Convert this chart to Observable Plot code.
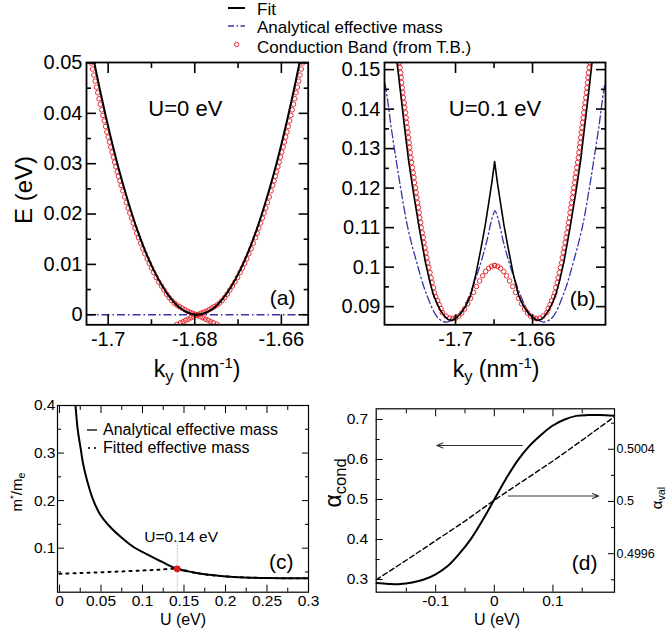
<!DOCTYPE html>
<html>
<head>
<meta charset="utf-8">
<script src="https://cdn.jsdelivr.net/npm/d3@7"></script>
<script src="https://cdn.jsdelivr.net/npm/@observablehq/plot@0.6"></script>
<style>
html,body{margin:0;padding:0;background:#fff;}
#page{position:relative;width:667px;height:630px;overflow:hidden;background:#fff;font-family:"Liberation Sans",Arial,Helvetica,sans-serif;color:#000;}
#page svg.panel{position:absolute;left:0;top:0;}
#page svg.sw{position:absolute;}
.lab{position:absolute;white-space:nowrap;line-height:1;}
.lab sub{font-size:0.72em;vertical-align:-0.32em;line-height:0;}
.lab sup{font-size:0.65em;vertical-align:0.6em;line-height:0;}
</style>
</head>
<body>
<div id="page"></div>
<script>
// ---------------- data: panel (a), U = 0 eV ----------------
const aCbKLeft = [-1.7039,-1.7036,-1.7033,-1.7030,-1.7027,-1.7024,-1.7021,-1.7018,-1.7015,-1.7012,-1.7009,-1.7006,-1.7003,-1.7000,-1.6997,-1.6994,-1.6991,-1.6988,-1.6985,-1.6982,-1.6979,-1.6976,-1.6973,-1.6970,-1.6966,-1.6962,-1.6958,-1.6954,-1.6950,-1.6946,-1.6942,-1.6938,-1.6934,-1.6930,-1.6925,-1.6920,-1.6915,-1.6910,-1.6905,-1.6900,-1.6895,-1.6889,-1.6883,-1.6877,-1.6871,-1.6865,-1.6859,-1.6853,-1.6847,
  -1.6841,-1.6835,-1.6829,-1.6823,-1.6817,-1.6811,-1.6805,-1.6799,-1.6793,-1.6787,-1.6781,-1.6775,-1.6769,-1.6763,-1.6757,-1.6749];
const aCbKRight = [-1.6551,-1.6554,-1.6557,-1.6560,-1.6563,-1.6566,-1.6569,-1.6572,-1.6575,-1.6578,-1.6581,-1.6584,-1.6587,-1.6590,-1.6593,-1.6596,-1.6599,-1.6602,-1.6605,-1.6608,-1.6611,-1.6614,-1.6617,-1.6620,-1.6624,-1.6628,-1.6632,-1.6636,-1.6640,-1.6644,-1.6648,-1.6652,-1.6656,-1.6660,-1.6665,-1.6670,-1.6675,-1.6680,-1.6685,-1.6690,-1.6695,-1.6701,-1.6707,-1.6713,-1.6719,-1.6725,-1.6731,-1.6737,-1.6743,
  -1.6749,-1.6755,-1.6761,-1.6767,-1.6773,-1.6779,-1.6785,-1.6791,-1.6797,-1.6803,-1.6809,-1.6815,-1.6821,-1.6827,-1.6833,-1.6841];
const aCbE = [0.0500,0.0488,0.0476,0.0464,0.0452,0.0441,0.0429,0.0418,0.0407,0.0396,0.0385,0.0374,0.0363,0.0353,0.0343,0.0333,0.0323,0.0313,0.0303,0.0294,0.0284,0.0275,0.0266,0.0257,0.0246,0.0234,0.0223,0.0212,0.0202,0.0192,0.0182,0.0172,0.0162,0.0153,0.0142,0.0131,0.0121,0.0111,0.0102,0.0093,0.0084,0.0074,0.0065,0.0057,0.0049,0.0041,0.0034,0.0028,0.0023,
  0.0019,0.0016,0.0013,0.0010,0.0007,0.0005,0.0003,0.0001,-0.0001,-0.0004,-0.0006,-0.0009,-0.0011,-0.0014,-0.0016,-0.0019];
const aFitK = [-1.7035,-1.7015,-1.6995,-1.6975,-1.6955,-1.6935,-1.6915,-1.6895,-1.6875,-1.6855,-1.6835,-1.6815,-1.6795,-1.6775,-1.6755,-1.6735,-1.6715,-1.6695,-1.6675,-1.6655,-1.6635,-1.6615,-1.6595,-1.6575,-1.6555];
const aFitE = [0.0513,0.0431,0.0356,0.0288,0.0228,0.0174,0.0128,0.0089,0.0057,0.0032,0.0014,0.0004,0,0.0004,0.0014,0.0032,0.0057,0.0089,0.0128,0.0174,0.0228,0.0288,0.0356,0.0431,0.0513];
const aAnaE = [0];

// ---------------- data: panel (b), U = 0.1 eV ----------------
const bCbKLeft = [-1.7291,-1.7288,-1.7285,-1.7282,-1.7280,-1.7277,-1.7274,-1.7271,-1.7267,-1.7264,-1.7260,-1.7257,-1.7254,-1.7251,-1.7247,-1.7244,-1.7241,-1.7238,-1.7235,-1.7232,-1.7228,-1.7224,-1.7220,-1.7216,-1.7213,-1.7208,-1.7205,-1.7201,-1.7197,-1.7193,-1.7189,-1.7186,-1.7181,-1.7178,-1.7173,-1.7168,-1.7164,-1.7159,-1.7154,-1.7149,-1.7145,-1.7139,-1.7133,-1.7127,-1.7122,-1.7115,-1.7110,-1.7103,-1.7093,-1.7085,-1.7076,-1.7068,-1.7049,-1.7031,-1.7014,
  -1.7000,-1.6984,-1.6968,-1.6953,-1.6937,-1.6922,-1.6906,-1.6891,-1.6875,-1.6859,-1.6844,-1.6828,-1.6813,-1.6797];
const bCbKRight = [-1.6303,-1.6306,-1.6309,-1.6312,-1.6314,-1.6317,-1.6320,-1.6323,-1.6327,-1.6330,-1.6334,-1.6337,-1.6340,-1.6343,-1.6347,-1.6350,-1.6353,-1.6356,-1.6359,-1.6362,-1.6366,-1.6370,-1.6374,-1.6378,-1.6381,-1.6386,-1.6389,-1.6393,-1.6397,-1.6401,-1.6405,-1.6408,-1.6413,-1.6416,-1.6421,-1.6426,-1.6430,-1.6435,-1.6440,-1.6445,-1.6449,-1.6455,-1.6461,-1.6467,-1.6472,-1.6479,-1.6484,-1.6491,-1.6501,-1.6509,-1.6518,-1.6526,-1.6545,-1.6563,-1.6580,
  -1.6594,-1.6610,-1.6626,-1.6641,-1.6657,-1.6672,-1.6688,-1.6703,-1.6719,-1.6735,-1.6750,-1.6766,-1.6781,-1.6797];
const bCbE = [0.1518,0.1505,0.1492,0.1480,0.1467,0.1454,0.1442,0.1429,0.1416,0.1404,0.1391,0.1378,0.1366,0.1353,0.1341,0.1328,0.1315,0.1303,0.1290,0.1277,0.1265,0.1252,0.1239,0.1227,0.1214,0.1201,0.1189,0.1176,0.1163,0.1151,0.1138,0.1125,0.1113,0.1100,0.1087,0.1075,0.1062,0.1049,0.1037,0.1024,0.1011,0.0999,0.0986,0.0973,0.0961,0.0948,0.0935,0.0925,0.0915,0.0905,0.0895,0.0885,0.0876,0.0871,0.0870,
  0.0871,0.0876,0.0884,0.0894,0.0907,0.0921,0.0936,0.0951,0.0965,0.0978,0.0989,0.0997,0.1002,0.1004];
const bFitK = [-1.7311,-1.7304,-1.7285,-1.7265,-1.7244,-1.7218,-1.7189,-1.7158,-1.7135,-1.7117,-1.7098,-1.7078,-1.7057,-1.7041,-1.7020,-1.7000,-1.6974,-1.6945,-1.6922,-1.6896,-1.6870,-1.6846,-1.6826,-1.6810,-1.6797,
  -1.6784,-1.6768,-1.6748,-1.6724,-1.6698,-1.6672,-1.6649,-1.6620,-1.6594,-1.6574,-1.6553,-1.6537,-1.6517,-1.6496,-1.6478,-1.6459,-1.6436,-1.6405,-1.6376,-1.6350,-1.6330,-1.6309,-1.6291,-1.6283];
const bFitE = [0.1548,0.1518,0.1439,0.1353,0.1270,0.1186,0.1100,0.1016,0.0966,0.0933,0.0910,0.0890,0.0876,0.0868,0.0865,0.0870,0.0882,0.0903,0.0928,0.0978,0.1042,0.1105,0.1168,0.1219,0.1267,
  0.1219,0.1168,0.1105,0.1042,0.0978,0.0928,0.0903,0.0882,0.0870,0.0865,0.0868,0.0876,0.0890,0.0910,0.0933,0.0966,0.1016,0.1100,0.1186,0.1270,0.1353,0.1439,0.1518,0.1548];
const bAnaK = [-1.7382,-1.7360,-1.7334,-1.7308,-1.7283,-1.7248,-1.7204,-1.7152,-1.7092,-1.7049,-1.7003,-1.6971,-1.6935,-1.6899,-1.6867,-1.6837,-1.6816,-1.6803,-1.6795,
  -1.6787,-1.6774,-1.6753,-1.6723,-1.6691,-1.6655,-1.6619,-1.6587,-1.6542,-1.6498,-1.6438,-1.6386,-1.6342,-1.6307,-1.6282,-1.6256,-1.6230,-1.6208];
const bAnaE = [0.1503,0.1447,0.1353,0.1270,0.1194,0.1100,0.1016,0.0933,0.0872,0.0861,0.0870,0.0885,0.0920,0.0966,0.1014,0.1067,0.1113,0.1135,0.1143,
  0.1135,0.1113,0.1067,0.1014,0.0966,0.0920,0.0885,0.0870,0.0861,0.0872,0.0933,0.1016,0.1100,0.1194,0.1270,0.1353,0.1447,0.1503];

// ---------------- data: panel (c), effective mass ----------------
const cAnaU = [0.0175,0.0193,0.0221,0.0253,0.0285,0.0333,0.0394,0.0486,0.0614,0.0743,0.0896,0.1056,0.1237,0.1418,0.160,0.180,0.210,0.250,0.300];
const cAnaM = [0.440,0.400,0.347,0.312,0.277,0.242,0.207,0.172,0.144,0.123,0.102,0.087,0.071,0.0566,0.0495,0.0440,0.0395,0.0372,0.0370];
const cFitU = [0,0.025,0.05,0.075,0.1,0.12,0.1418,0.16,0.18,0.21,0.25,0.3];
const cFitM = [0.0460,0.0476,0.0494,0.0511,0.0530,0.0547,0.0566,0.0495,0.0440,0.0395,0.0372,0.0370];
const cMarkU = [0.1418];
const cMarkM = [0.0566];
const cMarkTop = [0.110];
const cMarkText = ["U=0.14 eV"];

// ---------------- data: panel (d), alpha ----------------
const dU = [-0.2014,-0.18,-0.16,-0.14,-0.12,-0.10,-0.08,-0.06,-0.04,-0.02,0,0.02,0.04,0.06,0.08,0.10,0.12,0.14,0.16,0.18,0.205];
const dCond = [0.291,0.289,0.2885,0.2925,0.300,0.313,0.333,0.364,0.401,0.448,0.500,0.552,0.598,0.634,0.662,0.685,0.700,0.709,0.711,0.711,0.709];
const dValU = [-0.2014,-0.15,-0.1,-0.05,0,0.05,0.1,0.15,0.205];
const dVal = [0.49940,0.49955,0.49970,0.49985,0.50001,0.50016,0.50031,0.50047,0.50065];
const dArrowX1 = [0.048, 0.024];
const dArrowX2 = [-0.098, 0.178];
const dArrowY = [0.635, 0.5086];

// ---------------- tick values ----------------
const aXMajor = [-1.7,-1.68,-1.66], aXMinor = [-1.69,-1.67];
const aYMajor = [0,0.01,0.02,0.03,0.04,0.05], aYMinor = [0.005,0.015,0.025,0.035,0.045];
const bXMajor = [-1.7,-1.66], bXMinor = [-1.68];
const bYMajor = [0.09,0.1,0.11,0.12,0.13,0.14,0.15], bYMinor = [0.095,0.105,0.115,0.125,0.135,0.145];
const cXMajor = [0,0.05,0.1,0.15,0.2,0.25,0.3], cXMinor = [0.025,0.075,0.125,0.175,0.225,0.275];
const cYMajor = [0.1,0.2,0.3,0.4], cYMinor = [0.05,0.15,0.25,0.35];
const dXMajor = [-0.1,0,0.1], dXMinor = [-0.15,-0.05,0.05,0.15];
const dYMajor = [0.3,0.4,0.5,0.6,0.7], dYMinor = [0.35,0.45,0.55,0.65];
const dRMajor = [0.4996,0.5,0.5004], dRMinor = [0.4994,0.4998,0.5002,0.5006];

// ---------------- texts ----------------
const legendTop = ["Fit", "Analytical effective mass", "Conduction Band (from T.B.)"];
const legendC = ["Analytical effective mass", "Fitted effective mass"];

// ---------------- rendering ----------------
const FONT = '"Liberation Sans", Arial, Helvetica, sans-serif';
const RED = "#e3191f", BLUE = "#3535a8", BLACK = "#000";
const W = 667, H = 630;
const page = document.getElementById("page");
const fmt = d => String(d);
const blank = () => "";

function axes(o) {
  const m = [];
  const c = {label: null, strokeWidth: o.sw};
  m.push(Plot.axisX({...c, anchor: "bottom", ticks: o.xMajor, tickSize: -o.major, tickPadding: o.padX, tickFormat: fmt, fontSize: o.fs}));
  m.push(Plot.axisX({...c, anchor: "bottom", ticks: o.xMinor, tickSize: -o.minor, tickFormat: blank}));
  m.push(Plot.axisX({...c, anchor: "top", ticks: o.xMajor, tickSize: -o.major, tickFormat: blank}));
  m.push(Plot.axisX({...c, anchor: "top", ticks: o.xMinor, tickSize: -o.minor, tickFormat: blank}));
  m.push(Plot.axisY({...c, anchor: "left", ticks: o.yMajor, tickSize: -o.major, tickPadding: o.padY, tickFormat: fmt, fontSize: o.fs}));
  m.push(Plot.axisY({...c, anchor: "left", ticks: o.yMinor, tickSize: -o.minor, tickFormat: blank}));
  if (o.right !== false) {
    m.push(Plot.axisY({...c, anchor: "right", ticks: o.yMajor, tickSize: -o.major, tickFormat: blank}));
    m.push(Plot.axisY({...c, anchor: "right", ticks: o.yMinor, tickSize: -o.minor, tickFormat: blank}));
  }
  return m;
}

function mount(box, xd, yd, marks, noX) {
  const svg = Plot.plot({
    width: W, height: H,
    marginLeft: box[0], marginRight: W - box[1], marginTop: box[2], marginBottom: H - box[3],
    x: noX ? {domain: xd, label: null, axis: null} : {domain: xd, label: null},
    y: {domain: yd, label: null},
    style: {background: "transparent", fontFamily: FONT, color: "#000"},
    marks
  });
  svg.classList.add("panel");
  page.appendChild(svg);
}

function lab(html, x, y, size, mode) {
  const d = document.createElement("div");
  d.className = "lab";
  d.innerHTML = html;
  d.style.left = x + "px";
  d.style.top = y + "px";
  d.style.fontSize = size + "px";
  d.style.transform = mode === "rot" ? "translate(-50%,-50%) rotate(-90deg)" : mode === "left" ? "translate(0,-50%)" : "translate(-50%,-50%)";
  page.appendChild(d);
}

const dashDot = "8,3,1.5,3";

// panel (a)
mount([86, 307.7, 62, 324.3], [-1.7050, -1.6538], [-0.0020, 0.0501], [
  Plot.ruleY(aAnaE, {y: aAnaE, stroke: BLUE, strokeWidth: 1.3, strokeDasharray: dashDot}),
  Plot.dot(aCbE, {x: aCbKLeft, y: aCbE, r: 2.3, stroke: RED, strokeWidth: 0.9, clip: true}),
  Plot.dot(aCbE, {x: aCbKRight, y: aCbE, r: 2.3, stroke: RED, strokeWidth: 0.9, clip: true}),
  Plot.line(aFitE, {x: aFitK, y: aFitE, stroke: BLACK, strokeWidth: 2, curve: "catmull-rom", clip: true}),
  Plot.frame({strokeWidth: 1.8}),
  ...axes({xMajor: aXMajor, xMinor: aXMinor, yMajor: aYMajor, yMinor: aYMinor, major: 10, minor: 5, sw: 1.6, padX: 17, padY: 14, fs: 20}),
  Plot.text(["U=0 eV"], {text: d => d, frameAnchor: "top", dx: -12, dy: 46, fontSize: 22, lineAnchor: "middle"}),
  Plot.text(["(a)"], {text: d => d, frameAnchor: "bottom-right", textAnchor: "end", dx: -12.7, dy: -27, fontSize: 21, lineAnchor: "middle"})
]);

// panel (b)
mount([384, 605, 62, 324.3], [-1.7369, -1.6221], [0.0854, 0.1518], [
  Plot.line(bAnaE, {x: bAnaK, y: bAnaE, stroke: BLUE, strokeWidth: 1.3, strokeDasharray: dashDot, curve: "catmull-rom", clip: true}),
  Plot.dot(bCbE, {x: bCbKLeft, y: bCbE, r: 2.3, stroke: RED, strokeWidth: 0.9, clip: true}),
  Plot.dot(bCbE, {x: bCbKRight, y: bCbE, r: 2.3, stroke: RED, strokeWidth: 0.9, clip: true}),
  Plot.line(bFitE, {x: bFitK, y: bFitE, stroke: BLACK, strokeWidth: 1.6, clip: true}),
  Plot.frame({strokeWidth: 1.8}),
  ...axes({xMajor: bXMajor, xMinor: bXMinor, yMajor: bYMajor, yMinor: bYMinor, major: 10, minor: 5, sw: 1.6, padX: 17, padY: 14, fs: 20}),
  Plot.text(["U=0.1 eV"], {text: d => d, frameAnchor: "top", dx: 0, dy: 46, fontSize: 22, lineAnchor: "middle"}),
  Plot.text(["(b)"], {text: d => d, frameAnchor: "bottom-right", textAnchor: "end", dx: -10, dy: -26, fontSize: 21, lineAnchor: "middle"})
]);

// panel (c)
mount([57, 308, 405, 591.7], [-0.0024, 0.3], [0.0074, 0.4], [
  Plot.ruleX(cMarkU, {x: cMarkU, y1: [0.0074], y2: cMarkTop, stroke: "#c4c4c4", strokeWidth: 1, strokeDasharray: "2,1"}),
  Plot.line(cFitM, {x: cFitU, y: cFitM, stroke: BLACK, strokeWidth: 2, strokeDasharray: "2,5", curve: "catmull-rom", clip: true}),
  Plot.line(cAnaM, {x: cAnaU, y: cAnaM, stroke: BLACK, strokeWidth: 2, curve: "catmull-rom", clip: true}),
  Plot.dot(cMarkM, {x: cMarkU, y: cMarkM, r: 3.4, fill: RED, stroke: "none"}),
  Plot.frame({strokeWidth: 1.2}),
  ...axes({xMajor: cXMajor, xMinor: cXMinor, yMajor: cYMajor, yMinor: cYMinor, major: 7, minor: 4, sw: 1, padX: 10, padY: 9, fs: 15.5}),
  Plot.text(cMarkText, {x: cMarkU, y: cMarkM, text: cMarkText, dx: 4, dy: -31.5, fontSize: 15.5, lineAnchor: "middle"}),
  Plot.text(["(c)"], {text: d => d, frameAnchor: "bottom-right", textAnchor: "end", dx: -15, dy: -29.5, fontSize: 21, lineAnchor: "middle"})
]);

// panel (d) left axis
mount([375.7, 614, 408.3, 591.7], [-0.2014, 0.205], [0.2683, 0.7267], [
  Plot.line(dCond, {x: dU, y: dCond, stroke: BLACK, strokeWidth: 2, curve: "catmull-rom", clip: true}),
  Plot.arrow(dArrowY, {x1: dArrowX1, x2: dArrowX2, y1: dArrowY, y2: dArrowY, stroke: "#333", strokeWidth: 1.1, headLength: 9, headAngle: 45}),
  Plot.frame({strokeWidth: 1.2}),
  ...axes({xMajor: dXMajor, xMinor: dXMinor, yMajor: dYMajor, yMinor: dYMinor, major: 7, minor: 4, sw: 1, padX: 10, padY: 15, fs: 15.5, right: false}),
  Plot.text(["(d)"], {text: d => d, frameAnchor: "bottom-right", textAnchor: "end", dx: -17, dy: -28.5, fontSize: 21, lineAnchor: "middle"})
]);

// panel (d) right axis
mount([375.7, 614, 408.3, 591.7], [-0.2014, 0.205], [0.499305, 0.50071], [
  Plot.line(dVal, {x: dValU, y: dVal, stroke: BLACK, strokeWidth: 1.4, strokeDasharray: "5,3", clip: true}),
  Plot.axisY({anchor: "right", ticks: dRMajor, tickSize: -7, tickPadding: 9, tickFormat: fmt, fontSize: 12.5, strokeWidth: 1, label: null}),
  Plot.axisY({anchor: "right", ticks: dRMinor, tickSize: -4, tickFormat: blank, strokeWidth: 1, label: null})
], true);

// axis labels (HTML text with sub/superscripts)
lab("E (eV)", 24, 190, 24, "rot");
lab("k<sub>y</sub> (nm<sup>-1</sup>)", 197, 369, 23);
lab("k<sub>y</sub> (nm<sup>-1</sup>)", 496, 369, 23);
lab("m<sup>*</sup>/m<sub>e</sub>", 16, 492, 15, "rot");
lab("U (eV)", 183, 620, 16);
lab("U (eV)", 497, 620, 16);
lab("α<sub>cond</sub>", 333, 483, 23, "rot");
lab("α<sub>val</sub>", 656, 498, 15, "rot");

// top legend
const sw1 = document.createElementNS("http://www.w3.org/2000/svg", "svg");
sw1.setAttribute("class", "sw"); sw1.setAttribute("width", 24); sw1.setAttribute("height", 54);
sw1.style.left = "225px"; sw1.style.top = "0px";
sw1.innerHTML = `<line x1="3" x2="20" y1="8" y2="8" stroke="#000" stroke-width="2"/>
<line x1="3" x2="20" y1="26" y2="26" stroke="${BLUE}" stroke-width="1.3" stroke-dasharray="6,2.5,1.5,2.5"/>
<circle cx="11.7" cy="44.5" r="2.2" fill="none" stroke="${RED}" stroke-width="0.9"/>`;
page.appendChild(sw1);
lab(legendTop[0], 257, 8.5, 17, "left");
lab(legendTop[1], 257, 27, 17, "left");
lab(legendTop[2], 257, 46.5, 17, "left");

// legend of panel (c)
const sw2 = document.createElementNS("http://www.w3.org/2000/svg", "svg");
sw2.setAttribute("class", "sw"); sw2.setAttribute("width", 16); sw2.setAttribute("height", 36);
sw2.style.left = "85px"; sw2.style.top = "420px";
sw2.innerHTML = `<line x1="2" x2="12" y1="10" y2="10" stroke="#000" stroke-width="1.3"/>
<circle cx="4" cy="28" r="1.1" fill="#000"/><circle cx="10" cy="28" r="1.1" fill="#000"/>`;
page.appendChild(sw2);
lab(legendC[0], 103, 430, 16, "left");
lab(legendC[1], 103, 448, 16, "left");
</script>
</body>
</html>
